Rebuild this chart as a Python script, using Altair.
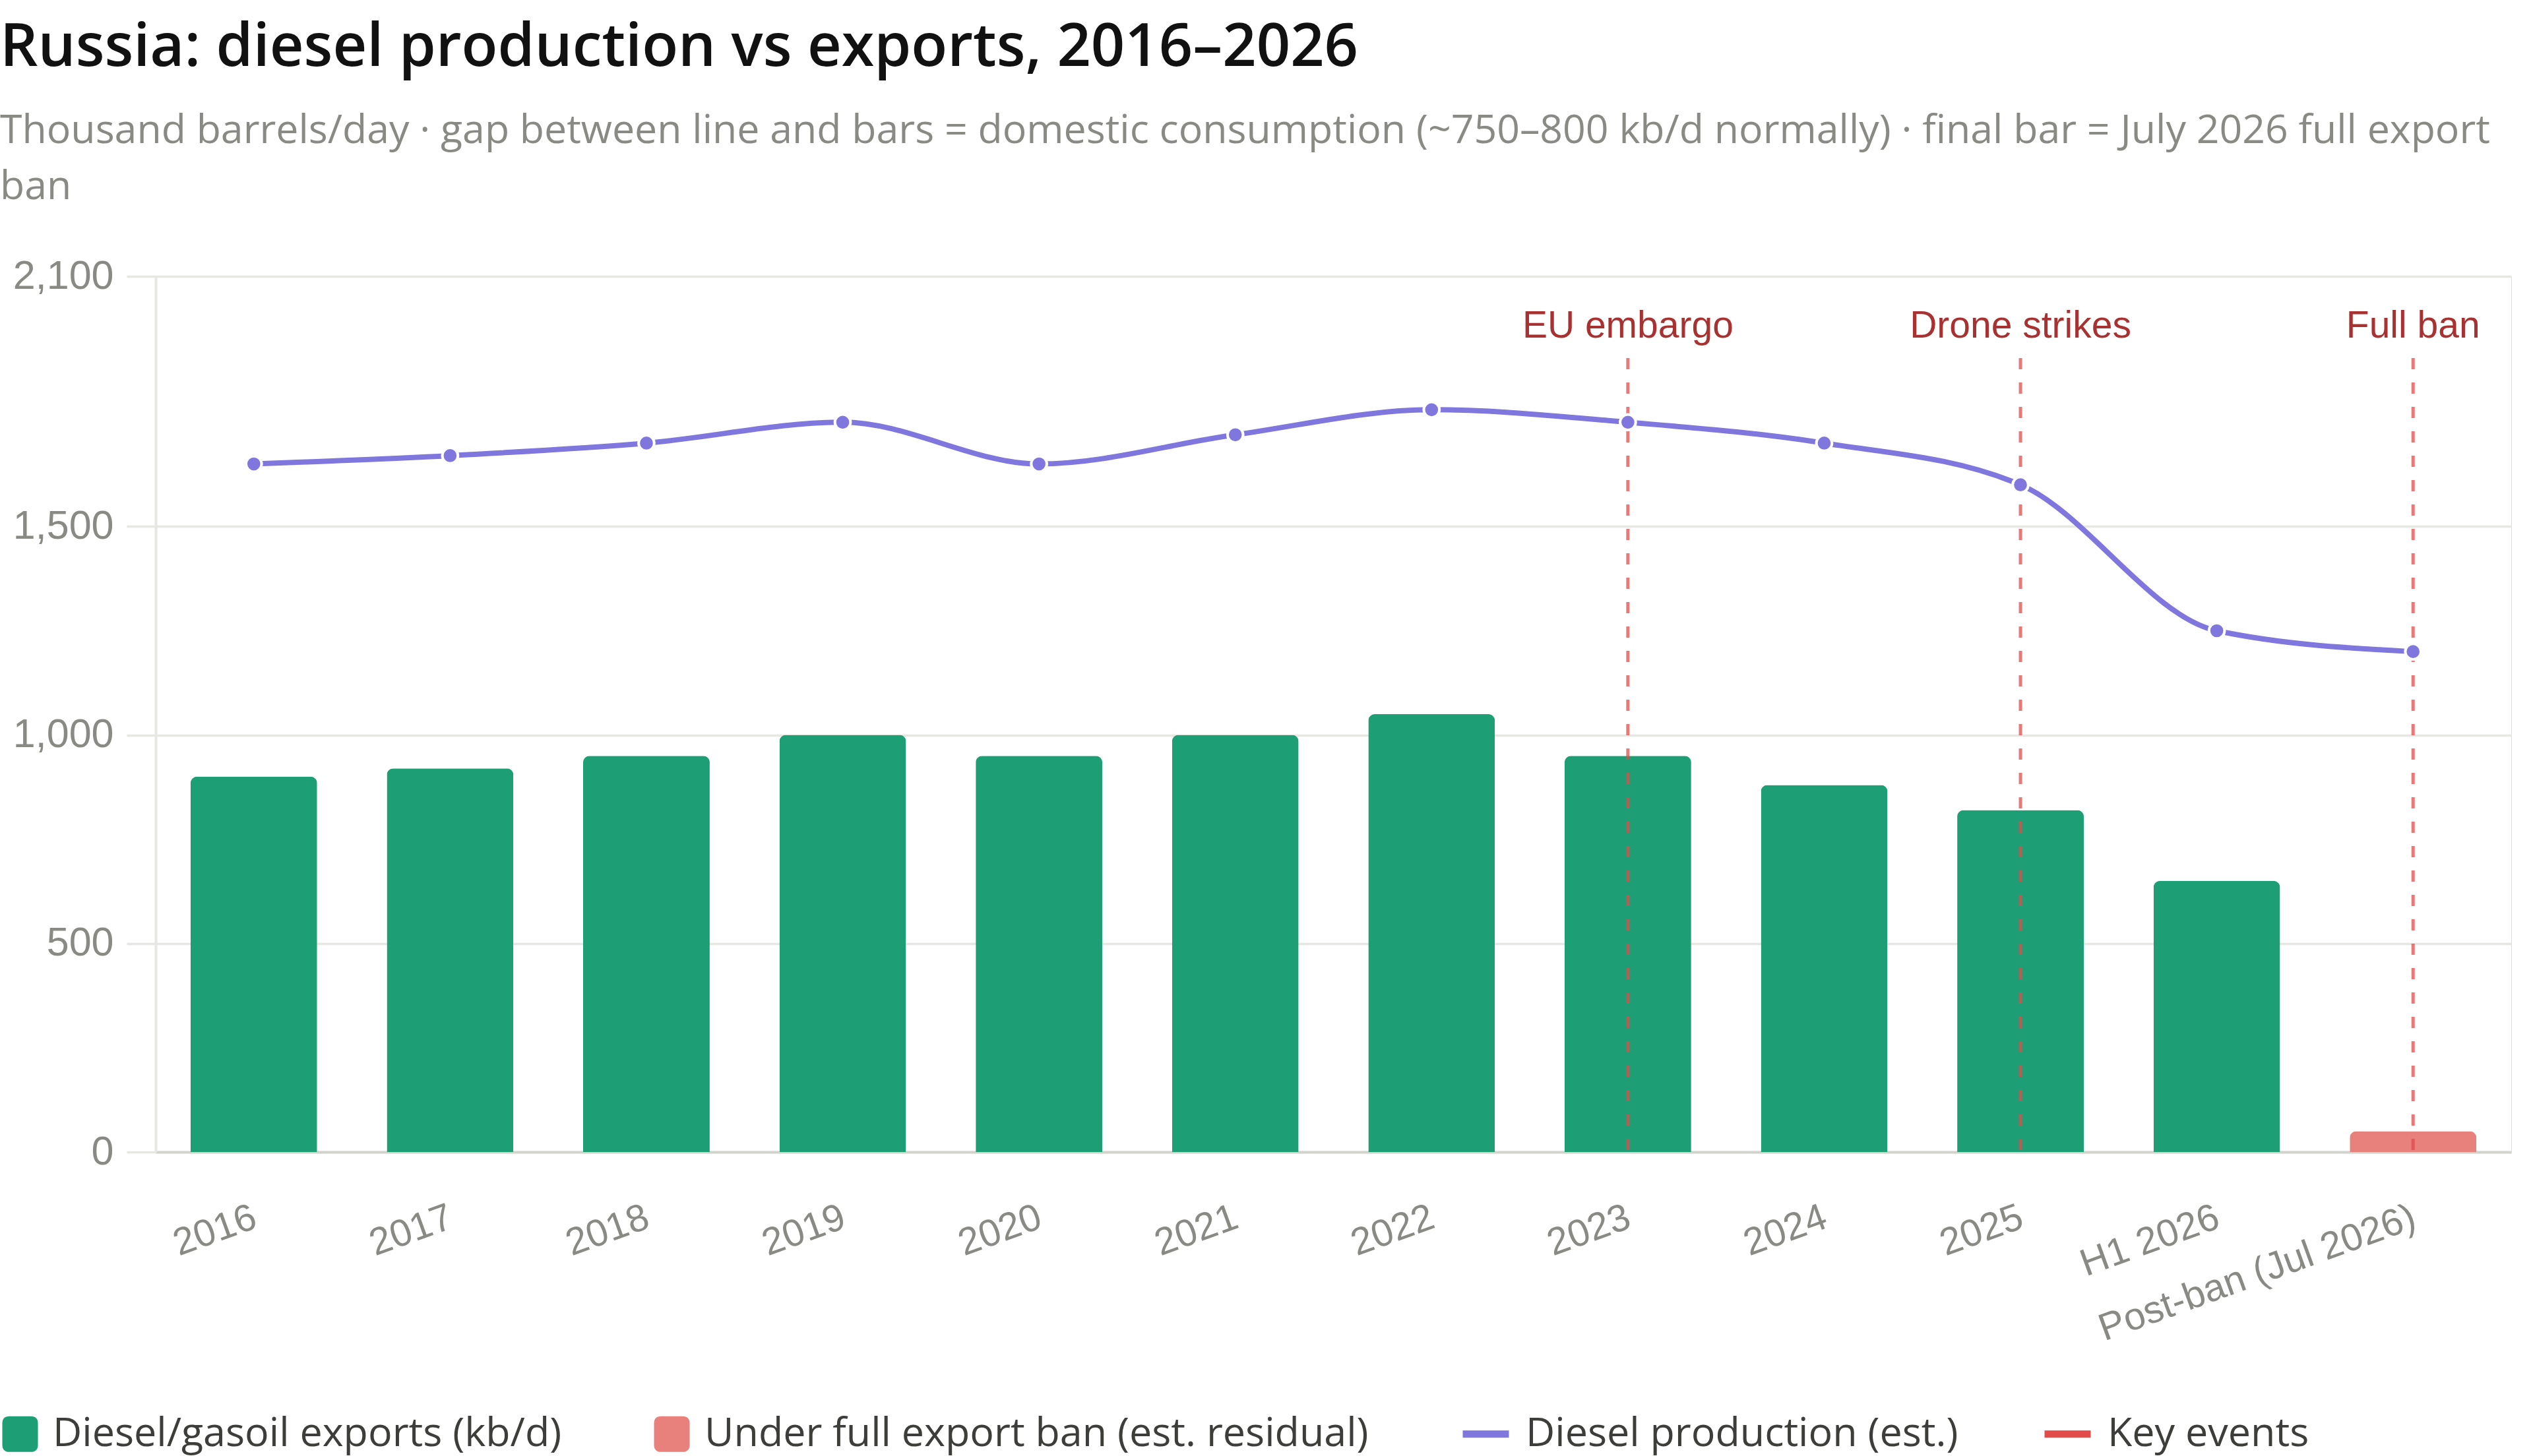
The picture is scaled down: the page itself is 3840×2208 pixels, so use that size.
import altair as alt
import pandas as pd

# Categories on the x axis and the two series (thousand barrels/day)
categories = ["2016", "2017", "2018", "2019", "2020", "2021", "2022", "2023",
              "2024", "2025", "H1 2026", "Post-ban (Jul 2026)"]
exports_kbd = [900, 920, 950, 1000, 950, 1000, 1050, 950, 880, 820, 650, 50]
production_kbd = [1650, 1670, 1700, 1750, 1650, 1720, 1780, 1750, 1700, 1600, 1250, 1200]
export_series = ["Diesel/gasoil exports (kb/d)"] * 11 + ["Under full export ban (est. residual)"]

# Key events marked with dashed vertical rules
event_categories = ["2023", "2025", "Post-ban (Jul 2026)"]
event_labels = ["EU embargo", "Drone strikes", "Full ban"]

# Legend entries and colours
bar_series = ["Diesel/gasoil exports (kb/d)", "Under full export ban (est. residual)"]
bar_colors = ["#1D9E75", "#E8807C"]
line_series = ["Diesel production (est.)", "Key events"]
line_colors = ["#7F77DD", "#E24B4A"]

y_ticks = [0, 500, 1000, 1500, 2100]

PLOT_W = 3571
PLOT_H = 1328
LEFT = 236

df = pd.DataFrame({
    "category": categories,
    "exports": exports_kbd,
    "production": production_kbd,
    "series": export_series,
    "line_series": [line_series[0]] * len(categories),
})
events = pd.DataFrame({
    "category": event_categories,
    "label": event_labels,
    "line_series": [line_series[1]] * len(event_categories),
})

GRID = "#e6e6e2"
TICK_TEXT = "#8a8a85"
ROUNDED_SQUARE = ("M-1,-0.6 Q-1,-1 -0.6,-1 L0.6,-1 Q1,-1 1,-0.6 L1,0.6 "
                  "Q1,1 0.6,1 L-0.6,1 Q-1,1 -1,0.6 Z")

x_scale = alt.Scale(type="band", domain=categories, paddingInner=0.355, paddingOuter=0.1775)
x_axis = alt.Axis(
    title=None, labelAngle=-20, labelAlign="right", labelBaseline="top",
    labelFont="Liberation Sans", labelFontSize=58, labelColor=TICK_TEXT,
    labelPadding=70, labelOffset=-8, ticks=False, domainColor="#d3d3ce",
    domainWidth=4, grid=False, labelLimit=1000,
)
y_scale = alt.Scale(domain=[0, 2100], nice=False, zero=True)
y_axis = alt.Axis(
    title=None, values=y_ticks, format=",d", labelLimit=500,
    labelFont="Liberation Sans", labelFontSize=61, labelColor=TICK_TEXT,
    labelPadding=20, tickSize=44, tickColor=GRID, tickWidth=3.5,
    gridColor=GRID, gridWidth=3.5, domainColor=GRID, domainWidth=4,
)

x = alt.X("category:N", sort=categories, scale=x_scale, axis=x_axis)

legend_common = dict(
    title=None, orient="none", direction="horizontal",
    labelFont="Open Sans", labelFontSize=61, labelColor="#3d3d3a",
    labelLimit=2000, symbolOpacity=1,
)

stroke_scale = alt.Scale(domain=line_series, range=line_colors)
stroke_legend = alt.Legend(
    legendX=2212 - LEFT, legendY=1715, symbolType="stroke",
    symbolSize=4900, symbolStrokeWidth=11, symbolDash=[1, 0],
    labelOffset=20, columnPadding=108, **legend_common,
)

bars = alt.Chart(df).mark_bar(cornerRadiusTopLeft=10, cornerRadiusTopRight=10).encode(
    x=x,
    y=alt.Y("exports:Q", scale=y_scale, axis=y_axis),
    color=alt.Color(
        "series:N",
        scale=alt.Scale(domain=bar_series, range=bar_colors),
        legend=alt.Legend(
            legendX=-LEFT, legendY=1725, symbolType=ROUNDED_SQUARE,
            symbolSize=2916, symbolStrokeWidth=0, labelOffset=19,
            columnPadding=136, **legend_common,
        ),
    ),
)

rules = alt.Chart(events).mark_rule(strokeWidth=5, strokeDash=[17, 20], opacity=0.75).encode(
    x=x,
    y=alt.value(124),
    y2=alt.value(PLOT_H),
    stroke=alt.Stroke("line_series:N", scale=stroke_scale, legend=stroke_legend),
)

line = alt.Chart(df).mark_line(interpolate="monotone", strokeWidth=8).encode(
    x=x,
    y=alt.Y("production:Q", scale=y_scale, axis=y_axis),
    stroke=alt.Stroke("line_series:N", scale=stroke_scale, legend=stroke_legend),
)

points = alt.Chart(df).mark_point(
    filled=True, shape="circle", size=560, fill="#7F77DD",
    stroke="white", strokeWidth=4, opacity=1,
).encode(
    x=x,
    y=alt.Y("production:Q", scale=y_scale, axis=y_axis),
)

event_text = alt.Chart(events).mark_text(
    font="Liberation Sans", fontSize=57, color="#A83232",
    baseline="alphabetic", align="center",
).encode(
    x=x,
    y=alt.value(93),
    text="label:N",
)

chart = alt.layer(bars, rules, line, points, event_text).properties(
    width=PLOT_W,
    height=PLOT_H,
    autosize=alt.AutoSizeParams(type="none"),
    padding={"left": LEFT, "top": 419, "right": 33, "bottom": 461},
    title=alt.Title(
        text="Russia: diesel production vs exports, 2016–2026",
        subtitle=[
            "Thousand barrels/day · gap between line and bars = domestic consumption "
            "(~750–800 kb/d normally) · final bar = July 2026 full export",
            "ban",
        ],
        anchor="start", frame="group", dx=-LEFT, offset=73,
        font="Open Sans", fontSize=90, fontWeight=600, color="#111111",
        subtitleFont="Open Sans", subtitleFontSize=60.8, subtitleColor="#8a8a85",
        subtitleLineHeight=85, subtitlePadding=50,
    ),
).configure_view(stroke=None).configure(background="white")

chart.save("out.html", embed_options={"renderer": "svg", "actions": False})
